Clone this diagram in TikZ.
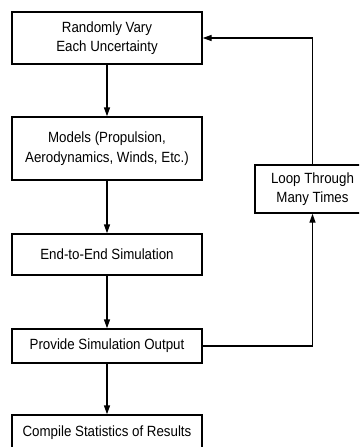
\documentclass[tikz,border=0pt]{standalone}
\usepackage{fontspec}
\setmainfont{Liberation Sans}[FakeStretch=0.9]
\usetikzlibrary{arrows.meta}

\begin{document}
\begin{tikzpicture}[x=1pt,y=-1pt,line cap=butt,line join=miter,
    stepbox/.style={draw,line width=1.4pt,inner sep=0pt,align=center,
        font=\fontsize{14.8}{19.5}\selectfont},
    flow/.style={line width=1.4pt,-{Triangle[length=9pt,width=6pt]}}]
        % Marco de la figura (recortado como en el original)
        \useasboundingbox (0,0) rectangle (359,447);
        \clip (0,0) rectangle (359,447);

        % Columna principal
        \node[stepbox,minimum width=190pt,minimum height=52pt]
            (vary) at (107,38) {Randomly Vary\\Each Uncertainty};
        \node[stepbox,minimum width=190pt,minimum height=63pt]
            (models) at (107,148.5) {Models (Propulsion,\\Aerodynamics, Winds, Etc.)};
        \node[stepbox,minimum width=190pt,minimum height=41pt]
            (sim) at (107,254.5) {End-to-End Simulation};
        \node[stepbox,minimum width=190pt,minimum height=34pt]
            (output) at (107,346) {Provide Simulation Output};
        \node[stepbox,minimum width=190pt,minimum height=36pt]
            (stats) at (107,433) {Compile Statistics of Results};

        % Caja del lazo
        \node[stepbox,minimum width=115pt,minimum height=48pt]
            (loop) at (312.5,189) {Loop Through\\Many Times};

        % Flechas
        \draw[flow] (vary) -- (models);
        \draw[flow] (models) -- (sim);
        \draw[flow] (sim) -- (output);
        \draw[flow] (output) -- (stats);

        % Retorno
        \draw[flow] (output.east) -| (loop.south);
        \draw[flow] (loop.north) |- (vary.east);
    \end{tikzpicture}
\end{document}
